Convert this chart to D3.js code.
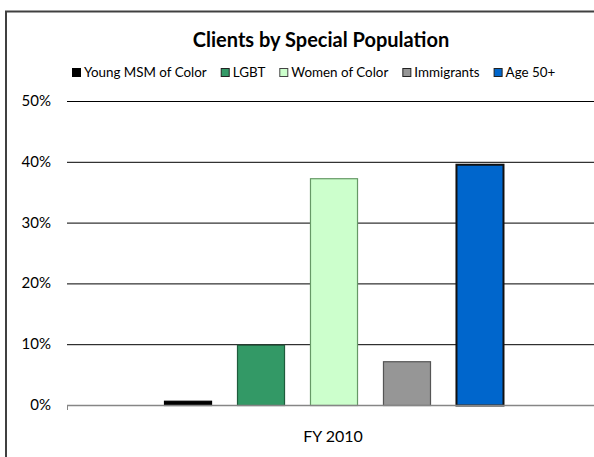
<!DOCTYPE html>
<html><head><meta charset="utf-8">
<script src="https://cdn.jsdelivr.net/npm/d3@7"></script>
<style>html,body{margin:0;padding:0;background:#fff;overflow:hidden}</style>
</head><body><svg id="c" width="594" height="457"></svg>
<script>
const categories = ["FY 2010"];
const series = ["Young MSM of Color", "LGBT", "Women of Color", "Immigrants", "Age 50+"];
const values = [0.7, 9.9, 37.3, 7.2, 39.6];
const yTicks = [0, 10, 20, 30, 40, 50];
const fills = ["#000000", "#339966", "#ccffcc", "#969696", "#0066cc"];
const strokes = ["#000000", "#1e5c3c", "#669966", "#555555", "#111111"];

const svg = d3.select("#c");
const font = "Lato, 'Open Sans', sans-serif";
const pLeft = 67, pRight = 601, pTop = 101, pBottom = 405;

// frame
svg.append("path").attr("d", `M6,460 V11.5 H600`).attr("fill","none").attr("stroke","#404040").attr("stroke-width",2);

const y = d3.scaleLinear().domain([0, 50]).range([pBottom, pTop]);
const x0 = d3.scaleBand().domain(categories).range([pLeft, pRight]);
const x1 = d3.scaleBand().domain(series).range([0, x0.bandwidth()]).paddingInner(0.342).paddingOuter(1.329);

// gridlines
svg.append("g").selectAll("line").data(yTicks.filter(t => t > 0)).join("line")
  .attr("x1", pLeft).attr("x2", pRight).attr("y1", d => y(d) + 0.5).attr("y2", d => y(d) + 0.5)
  .attr("stroke", "#000").attr("stroke-width", 1);

// y labels
svg.append("g").selectAll("text").data(yTicks).join("text")
  .attr("x", 51).attr("y", d => y(d) + 5).attr("text-anchor", "end")
  .attr("font-family", font).attr("font-size", 15).attr("fill", "#000")
  .text(d => d + "%");

// bars
const g = svg.append("g").attr("transform", `translate(${x0(categories[0])},0)`);
g.selectAll("rect").data(values).join("rect")
  .attr("x", (d, i) => x1(series[i]) + 0.5)
  .attr("y", d => y(d) + 0.5)
  .attr("width", x1.bandwidth() - 1)
  .attr("height", d => y(0) - y(d))
  .attr("fill", (d, i) => fills[i]).attr("stroke", (d, i) => strokes[i])
  .attr("stroke-width", (d, i) => i === 4 ? 2 : 1.2);

// x axis
svg.append("line").attr("x1", pLeft).attr("x2", pRight).attr("y1", pBottom + 0.5).attr("y2", pBottom + 0.5)
  .attr("stroke", "#868686").attr("stroke-width", 1.5);
svg.append("g").selectAll("line").data([pLeft, pRight]).join("line")
  .attr("x1", d => d + 0.5).attr("x2", d => d + 0.5).attr("y1", pBottom).attr("y2", pBottom + 5)
  .attr("stroke", "#868686");
svg.append("text").attr("x", x0(categories[0]) + x0.bandwidth() / 2 - 1).attr("y", 442)
  .attr("text-anchor", "middle").attr("font-family", font).attr("font-size", 16).text(categories[0]);

// title
svg.append("text").attr("x", 321).attr("y", 47).attr("text-anchor", "middle")
  .attr("font-family", font).attr("font-weight", "bold").attr("font-size", 20).text("Clients by Special Population");

// legend (flow layout with uniform gaps)
const lg = svg.append("g").selectAll("g").data(series).join("g");
lg.append("rect").attr("x", 0.5).attr("y", 0.5).attr("width", 8).attr("height", 8)
  .attr("fill", (d, i) => fills[i]).attr("stroke", (d, i) => i === 0 ? "#000" : (i === 2 ? "#444" : "#222"));
lg.append("text").attr("x", 12).attr("y", 9).attr("font-family", font).attr("font-size", 13.4).text(d => d);
let lx = 72;
lg.each(function () {
  const w = d3.select(this).select("text").node().getComputedTextLength();
  d3.select(this).attr("transform", `translate(${lx},68)`);
  lx += 12 + w + 14;
});
</script></body></html>
